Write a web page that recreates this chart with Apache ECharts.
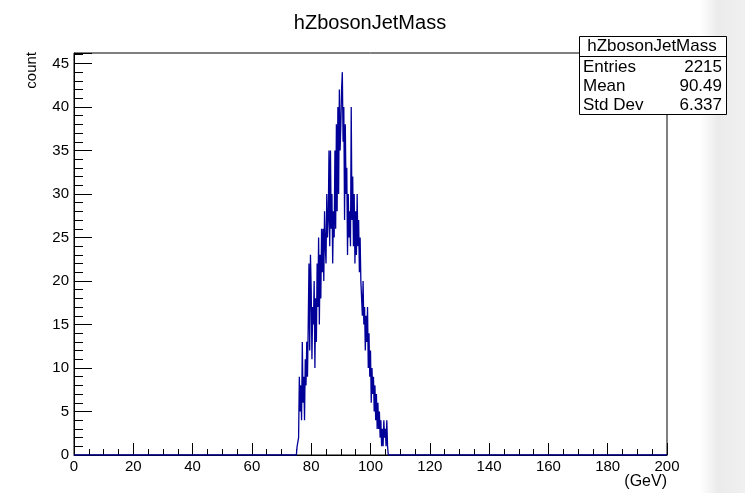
<!DOCTYPE html>
<html>
<head>
<meta charset="utf-8">
<script src="https://cdn.jsdelivr.net/npm/echarts@6/dist/echarts.min.js"></script>
<style>
  html, body { margin: 0; padding: 0; background: #fff; }
  #chart { width: 745px; height: 493px; }
</style>
</head>
<body>
<div id="chart"></div>
<script>
// Histogram hZbosonJetMass: 0.25 GeV bins, first bin low edge 75 GeV
const binStart = 75.0;
const binWidth = 0.25;
const counts = [
  0, 1, 1, 2,      // 75
  9, 5, 8, 4,      // 76
  13, 6, 9, 4,     // 77
  11, 8, 13, 9,    // 78
  15, 22, 12, 23,  // 79
  19, 11, 17, 15,  // 80
  20, 10, 18, 13,  // 81
  22, 17, 25, 15,  // 82
  23, 18, 26, 21,  // 83
  26, 20, 28, 24,  // 84
  22, 30, 25, 27,  // 85
  35, 24, 35, 26,  // 86
  30, 22, 28, 25,  // 87
  35, 26, 38, 28,  // 88
  40, 30, 42, 35,  // 89
  38, 42, 44, 36,  // 90
  40, 27, 38, 30,  // 91
  33, 23, 30, 25,  // 92
  28, 24, 40, 27,  // 93
  32, 24, 30, 22,  // 94
  28, 23, 30, 24,  // 95
  27, 21, 25, 20,  // 96
  18, 16, 20, 15,  // 97
  17, 12, 16, 13,  // 98
  17, 10, 14, 9,   // 99
  12, 6, 10, 7,    // 100
  9, 5, 8, 4,      // 101
  7, 3, 6, 3,      // 102
  5, 2, 4, 1,      // 103
  3, 1, 4, 2,      // 104
  3, 1, 4, 1       // 105
];
const xRange = [0, 200];
const yMax = 46.2;
const statLabels = ['Entries', 'Mean', 'Std Dev'];
const statValues = ['2215', '90.49', '6.337'];
const histName = 'hZbosonJetMass';

// Step outline: each point is a bin low edge; the last closes the final bin
const steps = [[xRange[0], 0]];
counts.forEach((c, i) => steps.push([binStart + i * binWidth, c]));
steps.push([binStart + counts.length * binWidth, 0]);
steps.push([xRange[1], 0]);

const FONT = 'Liberation Sans, Arial, Helvetica, sans-serif';
const chart = echarts.init(document.getElementById('chart'), null, { renderer: 'canvas' });

function label(text, x, y, align, size, extra) {
  return Object.assign({
    type: 'text', z: 102,
    style: { text: text, x: x, y: y, font: size + 'px ' + FONT, fill: '#000',
             textAlign: align, textVerticalAlign: 'middle' }
  }, extra || {});
}

const statTexts = [];
statLabels.forEach((lab, i) => {
  statTexts.push(label(lab, 583, 67 + i * 19.3, 'left', 17));
  statTexts.push(label(statValues[i], 722, 67 + i * 19.3, 'right', 17));
});

chart.setOption({
  animation: false,
  backgroundColor: '#fff',
  title: {
    text: histName,
    left: 365, top: 8, textAlign: 'center',
    textStyle: { fontFamily: FONT, fontSize: 20, fontWeight: 'normal', color: '#000' }
  },
  grid: {
    left: 74, right: 78, top: 53, bottom: 38,
    show: true, borderColor: '#000', borderWidth: 1, backgroundColor: 'transparent'
  },
  xAxis: {
    type: 'value', min: xRange[0], max: xRange[1], interval: 20,
    axisLine: { show: true, onZero: false, lineStyle: { color: '#000', width: 1 } },
    axisTick: { show: true, inside: true, length: 12, lineStyle: { color: '#000' } },
    minorTick: { show: true, splitNumber: 4, length: 6, lineStyle: { color: '#000' } },
    splitLine: { show: false },
    axisLabel: { color: '#000', fontFamily: FONT, fontSize: 15, margin: 4 }
  },
  yAxis: {
    type: 'value', min: 0, max: yMax, interval: 5,
    axisLine: { show: true, lineStyle: { color: '#000', width: 1 } },
    axisTick: { show: true, inside: true, length: 18, lineStyle: { color: '#000' } },
    minorTick: { show: true, splitNumber: 5, length: 9, lineStyle: { color: '#000' } },
    splitLine: { show: false },
    axisLabel: {
      color: '#000', fontFamily: FONT, fontSize: 15, margin: 5,
      formatter: v => (Math.abs(v % 5) < 1e-9 ? String(v) : '')
    }
  },
  series: [{
    type: 'line',
    step: 'end',
    data: steps,
    symbol: 'none',
    lineStyle: { color: '#000099', width: 1.3 },
    silent: true,
    z: 3
  }],
  graphic: [
    // light shading at the right edge of the canvas
    {
      type: 'rect', right: 0, top: 0, z: -1,
      shape: { width: 45, height: 493 },
      style: {
        fill: new echarts.graphic.LinearGradient(0, 0, 1, 0, [
          { offset: 0, color: 'rgba(235,235,235,0)' },
          { offset: 0.4, color: 'rgba(235,235,235,1)' },
          { offset: 1, color: 'rgba(240,240,240,1)' }
        ])
      }
    },
    {
      type: 'text', z: 10, x: 32, y: 52, rotation: Math.PI / 2,
      style: { text: 'count', x: 0, y: 0, font: '15px ' + FONT, fill: '#000',
               textAlign: 'right', textVerticalAlign: 'middle' }
    },
    label('(GeV)', 667, 482, 'right', 16, { z: 10 }),
    // statistics box
    {
      type: 'rect', z: 100,
      shape: { x: 579.5, y: 36.5, width: 147, height: 78 },
      style: { fill: '#fff', stroke: '#000', lineWidth: 1 }
    },
    {
      type: 'line', z: 101,
      shape: { x1: 579.5, y1: 56.5, x2: 726.5, y2: 56.5 },
      style: { stroke: '#000', lineWidth: 1 }
    },
    label(histName, 652, 46.5, 'center', 17)
  ].concat(statTexts)
});
</script>
</body>
</html>
